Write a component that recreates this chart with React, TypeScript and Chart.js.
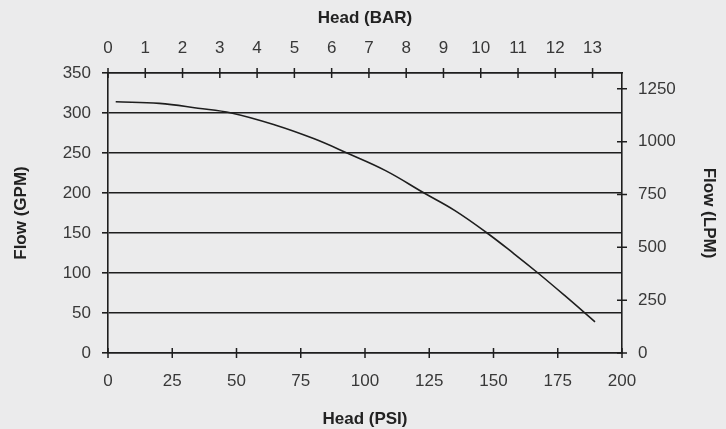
import React, { useEffect, useRef } from "react";
import { Chart, registerables } from "chart.js";

Chart.register(...registerables);

// Curve: head (PSI) vs flow (GPM)
const headPsi = [3, 20, 35, 48, 65, 80, 93, 108, 123, 135, 147.5, 158, 167.3, 178, 189.5];
const flowGpm = [314, 312, 306, 300, 285, 268, 250, 228, 200, 178, 150, 124, 100, 71, 39];

const psiTicks = [0, 25, 50, 75, 100, 125, 150, 175, 200];
const barTicks = [0, 1, 2, 3, 4, 5, 6, 7, 8, 9, 10, 11, 12, 13];
const gpmTicks = [0, 50, 100, 150, 200, 250, 300, 350];
const lpmTicks = [0, 250, 500, 750, 1000, 1250];

const PSI_PER_BAR = 14.5038;
const LPM_PER_GPM = 3.78541;

const LINE = "#1e1e1e";
const TEXT = "#383838";
const FONT = "'Liberation Sans', Arial, sans-serif";
const TICK_SIZE = 17;
const TITLE_SIZE = 17;

export default function App() {
  const ref = useRef<HTMLCanvasElement | null>(null);

  useEffect(() => {
    document.body.style.margin = "0";
    const canvas = ref.current;
    if (!canvas) return;

    const crossTicks = {
      id: "crossTicks",
      afterDraw(chart: any) {
        const ctx = chart.ctx;
        ctx.save();
        ctx.strokeStyle = LINE;
        ctx.lineWidth = 1.5;
        const half = 5;
        const xs = chart.scales.x;
        const x2 = chart.scales.x2;
        const y2 = chart.scales.y2;
        const area = chart.chartArea;
        ctx.beginPath();
        psiTicks.forEach((v) => {
          const px = xs.getPixelForValue(v);
          ctx.moveTo(px, area.bottom - half);
          ctx.lineTo(px, area.bottom + half);
        });
        barTicks.forEach((v) => {
          const px = x2.getPixelForValue(v);
          ctx.moveTo(px, area.top - half);
          ctx.lineTo(px, area.top + half);
        });
        lpmTicks.forEach((v) => {
          const py = y2.getPixelForValue(v);
          ctx.moveTo(area.right - half, py);
          ctx.lineTo(area.right + half, py);
        });
        ctx.stroke();
        ctx.restore();
      },
    };

    const plain = (v: any) => String(v);

    const chart = new Chart(canvas, {
      type: "scatter",
      data: {
        datasets: [
          {
            data: headPsi.map((x, i) => ({ x, y: flowGpm[i] })),
            showLine: true,
            borderColor: LINE,
            borderWidth: 1.6,
            pointRadius: 0,
            tension: 0.4,
            xAxisID: "x",
            yAxisID: "y",
          },
        ],
      },
      options: {
        animation: false,
        responsive: true,
        maintainAspectRatio: false,
        layout: { padding: 0 },
        plugins: { legend: { display: false }, tooltip: { enabled: false } },
        scales: {
          x: {
            type: "linear",
            position: "bottom",
            min: 0,
            max: 200,
            afterBuildTicks: (s: any) => {
              s.ticks = psiTicks.map((v) => ({ value: v }));
            },
            afterFit: (s: any) => {
              s.height = 76;
            },
            grid: { drawOnChartArea: false, drawTicks: false },
            border: { display: true, color: LINE, width: 1.6 },
            ticks: { color: TEXT, font: { family: FONT, size: TICK_SIZE }, padding: 18, maxRotation: 0, callback: plain },
            title: {
              display: true,
              text: "Head (PSI)",
              color: "#222",
              font: { family: FONT, size: TITLE_SIZE, weight: "bold" },
              padding: { top: 0, bottom: -1 },
            },
          },
          x2: {
            type: "linear",
            position: "top",
            min: 0,
            max: 200 / PSI_PER_BAR,
            afterBuildTicks: (s: any) => {
              s.ticks = barTicks.map((v) => ({ value: v }));
            },
            afterFit: (s: any) => {
              s.height = 73;
            },
            grid: { drawOnChartArea: false, drawTicks: false },
            border: { display: true, color: LINE, width: 1.6 },
            ticks: { color: TEXT, font: { family: FONT, size: TICK_SIZE }, padding: 14, maxRotation: 0, callback: plain },
            title: {
              display: true,
              text: "Head (BAR)",
              color: "#222",
              font: { family: FONT, size: TITLE_SIZE, weight: "bold" },
              padding: { top: 8, bottom: 0 },
            },
          },
          y: {
            type: "linear",
            position: "left",
            min: 0,
            max: 350,
            afterBuildTicks: (s: any) => {
              s.ticks = gpmTicks.map((v) => ({ value: v }));
            },
            afterFit: (s: any) => {
              s.width = 108;
            },
            grid: { color: LINE, lineWidth: 1.6, tickLength: 6 },
            border: { display: true, color: LINE, width: 1.6 },
            ticks: { color: TEXT, font: { family: FONT, size: TICK_SIZE }, padding: 11, callback: plain },
            title: {
              display: true,
              text: "Flow (GPM)",
              color: "#222",
              font: { family: FONT, size: TITLE_SIZE, weight: "bold" },
              padding: { top: 11, bottom: 0 },
            },
          },
          y2: {
            type: "linear",
            position: "right",
            min: 0,
            max: 350 * LPM_PER_GPM,
            afterBuildTicks: (s: any) => {
              s.ticks = lpmTicks.map((v) => ({ value: v }));
            },
            afterFit: (s: any) => {
              s.width = 104;
            },
            grid: { drawOnChartArea: false, drawTicks: false },
            border: { display: true, color: LINE, width: 1.6 },
            ticks: { color: TEXT, font: { family: FONT, size: TICK_SIZE }, padding: 16, callback: plain },
            title: {
              display: true,
              text: "Flow (LPM)",
              color: "#222",
              font: { family: FONT, size: TITLE_SIZE, weight: "bold" },
              padding: { top: 7, bottom: 0 },
            },
          },
        },
      },
      plugins: [crossTicks],
    } as any);

    return () => chart.destroy();
  }, []);

  return (
    <div style={{ width: 726, height: 429, background: "#ebebec", position: "relative" }}>
      <canvas ref={ref} />
    </div>
  );
}
